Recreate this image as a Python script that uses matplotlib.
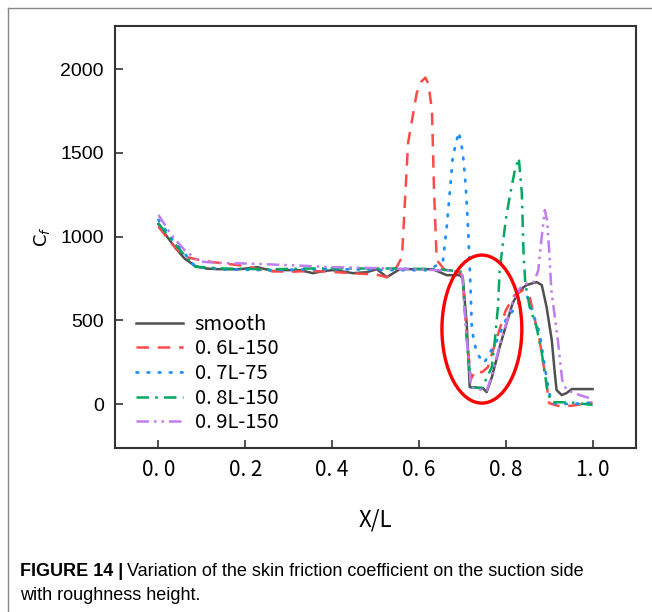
import matplotlib
matplotlib.use("Agg")
import matplotlib.pyplot as plt
from matplotlib.patches import Ellipse
from matplotlib.lines import Line2D

# ---- data ----
smooth_x = [0.0, 0.02, 0.04, 0.06, 0.085, 0.11, 0.136, 0.17, 0.189, 0.228, 0.264, 0.29, 0.326,
            0.356, 0.38, 0.402, 0.425, 0.448, 0.48, 0.503, 0.526, 0.556, 0.59, 0.632, 0.664,
            0.694, 0.701, 0.710, 0.717, 0.747, 0.756, 0.768, 0.786, 0.802, 0.816, 0.832, 0.848,
            0.871, 0.883, 0.894, 0.906, 0.913, 0.917, 0.929, 0.94, 0.952, 1.0]
smooth_y = [1075, 1000, 930, 870, 824, 810, 806, 805, 806, 818, 794, 800, 800,
            782, 795, 800, 792, 782, 788, 806, 758, 806, 806, 806, 770,
            770, 753, 484, 102, 96, 72, 161, 341, 484, 603, 681, 711,
            729, 711, 580, 382, 185, 84, 54, 66, 90, 90]

red_x = [0.0, 0.03, 0.06, 0.097, 0.12, 0.15, 0.2, 0.25, 0.3, 0.35, 0.4, 0.45, 0.5, 0.526,
         0.545, 0.561, 0.575, 0.595, 0.605, 0.615, 0.622, 0.63, 0.635, 0.641, 0.66, 0.69,
         0.70, 0.71, 0.72, 0.73, 0.745, 0.759, 0.78, 0.80, 0.82, 0.84, 0.855, 0.878, 0.89,
         0.90, 0.92, 0.95, 1.0]
red_y = [1060, 960, 880, 860, 850, 840, 825, 795, 790, 795, 790, 780, 775, 758,
         800, 878, 1560, 1858, 1925, 1950, 1910, 1756, 1260, 860, 800, 790,
         770, 400, 150, 200, 190, 221, 400, 560, 650, 680, 640, 382, 185,
         6, -10, -10, 10]

blue_x = [0.0, 0.03, 0.06, 0.085, 0.15, 0.25, 0.35, 0.45, 0.55, 0.62, 0.655, 0.664, 0.671,
          0.678, 0.687, 0.692, 0.701, 0.708, 0.713, 0.717, 0.719, 0.722, 0.733, 0.75, 0.78,
          0.80, 0.83, 0.85, 0.878, 0.89, 0.90, 0.908, 0.95, 1.0]
blue_y = [1100, 990, 900, 820, 805, 800, 805, 805, 800, 800, 848, 1057, 1260,
          1476, 1577, 1625, 1505, 1296, 1057, 818, 681, 442, 305, 245, 382,
          502, 603, 640, 424, 221, 66, 6, 0, 10]

green_x = [0.0, 0.03, 0.06, 0.085, 0.15, 0.25, 0.35, 0.45, 0.55, 0.65, 0.70, 0.71, 0.72,
           0.745, 0.768, 0.775, 0.782, 0.786, 0.80, 0.809, 0.821, 0.83, 0.837, 0.841, 0.845,
           0.855, 0.871, 0.883, 0.89, 0.897, 0.906, 0.95, 1.0]
green_y = [1080, 980, 890, 820, 810, 805, 810, 810, 810, 805, 790, 400, 100,
           95, 221, 382, 580, 800, 1100, 1237, 1398, 1470, 1260, 900, 723,
           580, 460, 305, 185, 66, 12, 10, -5]

purple_x = [0.0, 0.03, 0.06, 0.09, 0.1, 0.15, 0.2, 0.3, 0.4, 0.5, 0.6, 0.68, 0.70, 0.71,
            0.72, 0.745, 0.756, 0.768, 0.786, 0.802, 0.816, 0.832, 0.848, 0.865, 0.875, 0.882,
            0.89, 0.895, 0.90, 0.905, 0.92, 0.93, 0.94, 0.97, 1.0]
purple_y = [1130, 1010, 920, 860, 850, 842, 840, 830, 818, 812, 805, 795, 770, 400,
            100, 85, 80, 170, 350, 490, 610, 690, 720, 730, 800, 980,
            1159, 1099, 920, 681, 382, 143, 84, 54, 30]

labels = ["smooth", "0. 6L-150", "0. 7L-75", "0. 8L-150", "0. 9L-150"]
x_ticks = [0.0, 0.2, 0.4, 0.6, 0.8, 1.0]
x_tick_labels = ["0. 0", "0. 2", "0. 4", "0. 6", "0. 8", "1. 0"]
y_ticks = [0, 500, 1000, 1500, 2000]

cjk = ["Noto Sans CJK SC", "DejaVu Sans"]
cap_font = ["Liberation Sans", "DejaVu Sans"]

fig = plt.figure(figsize=(6.52, 6.12), dpi=100)
ax = fig.add_axes([115/652, 1-448/612, (636-115)/652, (448-26)/612])

ax.plot(smooth_x, smooth_y, color="#505050", lw=1.8, ls="-", label=labels[0])
ax.plot(red_x, red_y, color="#ff4a4a", lw=1.8, ls=(0, (5, 3.5)), label=labels[1])
ax.plot(blue_x, blue_y, color="#1f8fff", lw=2.0, ls=(0, (0.6, 3.4)),
        dash_capstyle="round", label=labels[2])
ax.plot(green_x, green_y, color="#00a862", lw=1.8, ls=(0, (5, 2.5, 1, 2.5)), label=labels[3])
ax.plot(purple_x, purple_y, color="#c07cf0", lw=1.8, ls=(0, (5, 2, 1, 2, 1, 2)), label=labels[4])

# highlight ellipse
ax.add_patch(Ellipse((0.745, 448), 0.184, 884, fill=False, edgecolor="#ff0000", lw=2.4, zorder=5))

ax.set_xlim(-0.1, 1.1)
ax.set_ylim(-262, 2258)
ax.set_xticks(x_ticks)
ax.set_xticklabels(x_tick_labels, family=cjk, fontsize=15, fontweight="medium")
ax.set_yticks(y_ticks)
ax.set_yticklabels([str(v) for v in y_ticks], family="Liberation Sans", fontsize=14)
ax.tick_params(direction="in", length=6, width=1.2, color="#333333", pad=8)
for s in ax.spines.values():
    s.set_color("#333333")
    s.set_linewidth(1.5)

ax.set_xlabel("X/L", family=cjk, fontsize=16, fontweight="medium", labelpad=20)
ax.set_ylabel("C$_f$", fontsize=13, labelpad=6)

leg = ax.legend(loc="upper left", bbox_to_anchor=(0.041, 0.318), frameon=False,
                prop={"family": cjk, "size": 14.5, "weight": "medium"}, handlelength=2.3,
                handletextpad=0.6, labelspacing=0.18, borderaxespad=0, borderpad=0)

# outer frame (top and left edges only) and caption
fig.add_artist(Line2D([8/652, 1.0], [1-8/612, 1-8/612], transform=fig.transFigure,
                      color="#888888", lw=1.0))
fig.add_artist(Line2D([8/652, 8/652], [0.0, 1-8/612], transform=fig.transFigure,
                      color="#888888", lw=1.0))
t1 = fig.text(20/652, 1-571/612, "FIGURE 14 |", family=cap_font, fontweight="bold",
              fontsize=13, va="center")
fig.canvas.draw()
bb = t1.get_window_extent()
fig.text(bb.x1/652 + 4/652, 1-571/612, "Variation of the skin friction coefficient on the suction side",
         family=cap_font, fontsize=13, va="center")
fig.text(20/652, 1-595/612, "with roughness height.", family=cap_font, fontsize=13, va="center")

fig.savefig("out.png", dpi=100)
